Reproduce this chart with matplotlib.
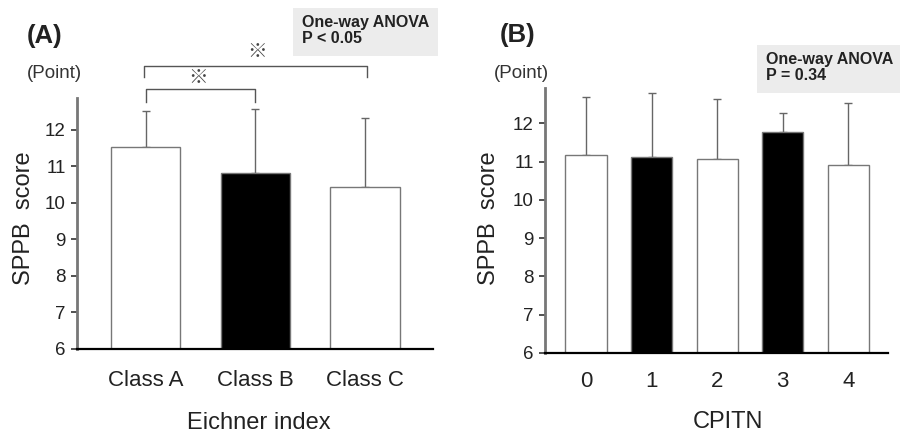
import matplotlib
matplotlib.use("Agg")
import matplotlib.pyplot as plt
from matplotlib.patches import Rectangle

plt.rcParams['font.family'] = ['Liberation Sans', 'DejaVu Sans']

# Data
eichner_cats = ["Class A", "Class B", "Class C"]
eichner_mean = [11.51, 10.82, 10.42]
eichner_sd = [0.99, 1.73, 1.91]
eichner_colors = ["white", "black", "white"]

cpitn_cats = ["0", "1", "2", "3", "4"]
cpitn_mean = [11.17, 11.13, 11.07, 11.79, 10.91]
cpitn_sd = [1.53, 1.66, 1.57, 0.48, 1.62]
cpitn_colors = ["white", "black", "white", "black", "white"]

yticks = [6, 7, 8, 9, 10, 11, 12]

W, H = 902, 444
fig = plt.figure(figsize=(W / 100, H / 100), dpi=100)
axA = fig.add_axes([0.085, 0.214, 0.395, 0.565])
axB = fig.add_axes([0.604, 0.205, 0.380, 0.597])

TXT = '#222222'


def style(ax, ylim_top, xlim, xpad):
    ax.set_ylim(6, ylim_top)
    ax.set_xlim(*xlim)
    ax.set_yticks(yticks)
    ax.spines['top'].set_visible(False)
    ax.spines['right'].set_visible(False)
    ax.spines['left'].set_color('#777777')
    ax.spines['left'].set_linewidth(2.0)
    ax.spines['bottom'].set_color('black')
    ax.spines['bottom'].set_linewidth(1.6)
    ax.tick_params(axis='y', direction='out', length=4, width=1.2, labelsize=13.5,
                   colors='#333333', labelcolor=TXT, pad=4)
    ax.tick_params(axis='x', length=0, labelsize=16, pad=xpad, labelcolor=TXT)


def bars(ax, cats, mean, sd, colors):
    x = list(range(len(cats)))
    ax.bar(x, mean, width=0.63, bottom=0, color=colors, edgecolor='#777777', linewidth=1.0, zorder=2)
    ax.errorbar(x, mean, yerr=[[0] * len(sd), sd], fmt='none', ecolor='#666666',
                elinewidth=1.0, capsize=3, capthick=1.0, zorder=1)
    ax.set_xticks(x)
    ax.set_xticklabels(cats)


bars(axA, eichner_cats, eichner_mean, eichner_sd, eichner_colors)
style(axA, 12.86, (-0.63, 2.62), 15)

bars(axB, cpitn_cats, cpitn_mean, cpitn_sd, cpitn_colors)
style(axB, 12.93, (-0.63, 4.6), 13)


def ftext(px, py, s, **kw):
    return fig.text(px / W, 1 - py / H, s, **kw)


# Axis titles
ftext(24, 218, "SPPB  score", fontsize=17, rotation=90, ha='center', va='center', color=TXT)
ftext(489, 218, "SPPB  score", fontsize=17, rotation=90, ha='center', va='center', color=TXT)
ftext(259, 423, "Eichner index", fontsize=17, ha='center', va='center', color=TXT)
ftext(728, 422, "CPITN", fontsize=17, ha='center', va='center', color=TXT)


# Significance brackets in panel A
def bracket(ax, x1, x2, ytop, ybot, star_x, star_y):
    ax.plot([x1, x1, x2, x2], [ybot, ytop, ytop, ybot], color='#555555', lw=1.0, clip_on=False)
    ax.text(star_x, star_y, "※", fontsize=14, ha='center', va='center', color='#444444',
            family=['Noto Sans CJK JP', 'DejaVu Sans'], clip_on=False)


bracket(axA, 0.0, 1.0, 13.11, 12.75, 0.48, 13.42)
bracket(axA, -0.02, 2.02, 13.74, 13.43, 1.02, 14.14)

# Panel letters and units
ftext(27, 36, "(A)", fontsize=18.5, fontweight='bold', va='center', ha='left', color=TXT)
ftext(500, 35, "(B)", fontsize=18.5, fontweight='bold', va='center', ha='left', color=TXT)
ftext(27, 74, "(Point)", fontsize=13.5, va='center', ha='left', color='#333333')
ftext(494, 74, "(Point)", fontsize=13.5, va='center', ha='left', color='#333333')


# ANOVA boxes
def anova_box(x0, y0, x1, y1, lines):
    fig.patches.append(Rectangle((x0 / W, 1 - y1 / H), (x1 - x0) / W, (y1 - y0) / H,
                                 transform=fig.transFigure, facecolor='#ececec', edgecolor='none'))
    ftext(x0 + 9, y0 + 7, lines, fontsize=11.5, fontweight='bold',
          va='top', ha='left', color=TXT, linespacing=1.05)


anova_box(293, 8, 438, 56, "One-way ANOVA\nP < 0.05")
anova_box(757, 45, 900, 93, "One-way ANOVA\nP = 0.34")

fig.savefig("out.png", dpi=100)
